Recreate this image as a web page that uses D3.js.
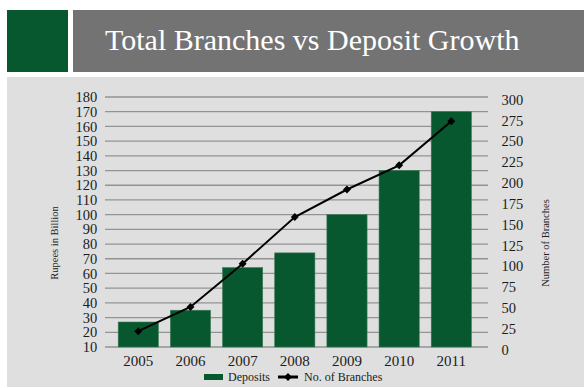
<!DOCTYPE html>
<html>
<head>
<meta charset="utf-8">
<script src="https://cdn.jsdelivr.net/npm/d3@7"></script>
</head>
<body style="margin:0">
<svg id="chart" width="584" height="388" style="display:block"></svg>
<script>
// Chart data
const years = ["2005", "2006", "2007", "2008", "2009", "2010", "2011"];
const deposits = [27, 35, 64, 74, 100, 130, 170];          // Rupees in Billion
const branches = [19, 48, 100, 156, 189, 218, 271];        // Number of branches
const leftTicks = d3.range(10, 181, 10);
const rightTicks = d3.range(0, 301, 25);
const titleText = "Total Branches vs Deposit Growth";
const seriesNames = ["Deposits", "No. of Branches"];

const FONT = "'Times New Roman', 'Liberation Serif', Georgia, Times";
const green = "#07572f";
const ink = "#1c1c1c";
const svg = d3.select("#chart").attr("font-family", FONT);

// Header band
svg.append("rect").attr("x", 7).attr("y", 10).attr("width", 61).attr("height", 62).attr("fill", green);
svg.append("rect").attr("x", 73).attr("y", 10).attr("width", 511).attr("height", 62).attr("fill", "#737373");
svg.append("text")
  .attr("x", 105).attr("y", 50)
  .attr("font-family", FONT).attr("font-size", 30).attr("fill", "#ffffff")
  .text(titleText);

// Chart panel
svg.append("rect").attr("x", 7).attr("y", 77).attr("width", 577).attr("height", 310).attr("fill", "#dfdfdf");

const plot = { left: 112.2, right: 477.4, top: 97, bottom: 347 };

const x = d3.scaleBand().domain(years).range([plot.left, plot.right]).paddingInner(0.23).paddingOuter(0.115);
const yL = d3.scaleLinear().domain([10, 180]).range([plot.bottom, plot.top]);
const yR = d3.scaleLinear().domain([0, 300]).range([plot.bottom, plot.top]);

// Horizontal gridlines
svg.append("g").selectAll("line").data(leftTicks).join("line")
  .attr("x1", 105).attr("x2", 488)
  .attr("y1", d => yL(d)).attr("y2", d => yL(d))
  .attr("stroke", "#939393").attr("stroke-width", 1.3);

function styleAxis(g, size) {
  g.attr("font-family", FONT).attr("font-size", size);
  g.select(".domain").remove();
  g.selectAll("text").attr("font-family", FONT).attr("fill", ink);
}

// Left axis labels
svg.append("g").attr("transform", `translate(${plot.left - 7},0)`)
  .call(d3.axisLeft(yL).tickValues(leftTicks).tickSize(0).tickPadding(8))
  .call(styleAxis, 14.5);

// Right axis labels
const rightAxis = svg.append("g").attr("transform", `translate(${plot.right + 10},0)`)
  .call(d3.axisRight(yR).tickValues(rightTicks).tickSize(0).tickPadding(14))
  .call(styleAxis, 14.5);
rightAxis.selectAll("text").attr("dy", "0.5em");

// Bars
svg.append("g").selectAll("rect").data(years).join("rect")
  .attr("x", d => x(d))
  .attr("width", x.bandwidth())
  .attr("y", (d, i) => yL(deposits[i]))
  .attr("height", (d, i) => yL(10) - yL(deposits[i]))
  .attr("fill", green)
  .attr("stroke", "#3c7a55").attr("stroke-width", 0.6);

// Bottom axis labels
svg.append("g").attr("transform", `translate(0,${plot.bottom})`)
  .call(d3.axisBottom(x).tickSize(0).tickPadding(8))
  .call(styleAxis, 15);

// Branch line with diamond markers
const line = d3.line().x((d, i) => x(years[i]) + x.bandwidth() / 2).y(d => yR(d));
svg.append("path").datum(branches).attr("d", line)
  .attr("fill", "none").attr("stroke", "#000").attr("stroke-width", 2);
const diamond = d3.symbol().type(d3.symbolDiamond2).size(40);
svg.append("g").selectAll("path").data(branches).join("path")
  .attr("transform", (d, i) => `translate(${x(years[i]) + x.bandwidth() / 2},${yR(d)})`)
  .attr("d", diamond).attr("fill", "#000");

// Axis titles
svg.append("text")
  .attr("transform", "translate(58,243) rotate(-90)")
  .attr("text-anchor", "middle").attr("font-family", FONT).attr("font-size", 10.5).attr("fill", ink)
  .text("Rupees in Billion");
svg.append("text")
  .attr("transform", "translate(549,243) rotate(-90)")
  .attr("text-anchor", "middle").attr("font-family", FONT).attr("font-size", 10.5).attr("fill", ink)
  .text("Number of Branches");

// Legend
const lg = svg.append("g");
lg.append("rect").attr("x", 204).attr("y", 374).attr("width", 19).attr("height", 6).attr("fill", green);
lg.append("text").attr("x", 228).attr("y", 381).attr("font-family", FONT).attr("font-size", 12).attr("fill", ink).text(seriesNames[0]);
lg.append("line").attr("x1", 278).attr("x2", 298).attr("y1", 377).attr("y2", 377).attr("stroke", "#000").attr("stroke-width", 3);
lg.append("path").attr("transform", "translate(288,377)").attr("d", diamond).attr("fill", "#000");
lg.append("text").attr("x", 304).attr("y", 381).attr("font-family", FONT).attr("font-size", 12).attr("fill", ink).text(seriesNames[1]);
</script>
</body>
</html>
